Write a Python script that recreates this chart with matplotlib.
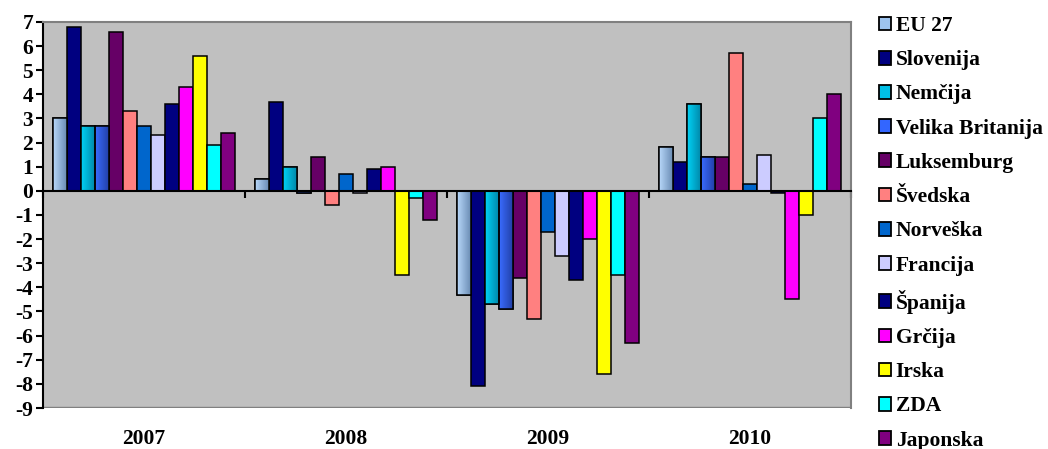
import numpy as np
import matplotlib
matplotlib.use("Agg")
from matplotlib import pyplot as plt
from matplotlib.patches import Patch, Rectangle
from matplotlib.colors import LinearSegmentedColormap
from matplotlib.transforms import blended_transform_factory

plt.rcParams["font.family"] = ["Liberation Serif", "DejaVu Serif"]
plt.rcParams["font.weight"] = "bold"
plt.rcParams["axes.unicode_minus"] = False

years = ["2007", "2008", "2009", "2010"]
countries = ["EU 27", "Slovenija", "Nemčija", "Velika Britanija", "Luksemburg",
             "Švedska", "Norveška", "Francija", "Španija", "Grčija", "Irska",
             "ZDA", "Japonska"]

eu27 = [3.0, 0.5, -4.3, 1.8]
slovenija = [6.8, 3.7, -8.1, 1.2]
nemcija = [2.7, 1.0, -4.7, 3.6]
velika_britanija = [2.7, -0.1, -4.9, 1.4]
luksemburg = [6.6, 1.4, -3.6, 1.4]
svedska = [3.3, -0.6, -5.3, 5.7]
norveska = [2.7, 0.7, -1.7, 0.3]
francija = [2.3, -0.1, -2.7, 1.5]
spanija = [3.6, 0.9, -3.7, -0.1]
grcija = [4.3, 1.0, -2.0, -4.5]
irska = [5.6, -3.5, -7.6, -1.0]
zda = [1.9, -0.3, -3.5, 3.0]
japonska = [2.4, -1.2, -6.3, 4.0]

series = [eu27, slovenija, nemcija, velika_britanija, luksemburg, svedska,
          norveska, francija, spanija, grcija, irska, zda, japonska]

colors = ["#9DC3EE", "#000080", "#00BFE6", "#3366FF", "#660066", "#FF8080",
          "#0066CC", "#CCCCFF", "#000080", "#FF00FF", "#FFFF00", "#00FFFF",
          "#800080"]
# gradient fills (left -> right) for a few series, like the original
gradients = {0: ("#B8D8FA", "#6A8CB4"), 2: ("#00D2F5", "#0088AA"),
             3: ("#3A6CFF", "#2240A8")}

fig = plt.figure(figsize=(10.48, 4.49), dpi=100)
ax = fig.add_axes([0.041, 0.0913, 0.771, 0.86])
ax.set_facecolor("#C0C0C0")

n = len(series)
w = 1 / (n + 1.5)
x = np.arange(len(years))

for i, vals in enumerate(series):
    bars = ax.bar(x + (i - (n - 1) / 2) * w, vals, w, color=colors[i],
                  edgecolor="black", linewidth=1.1, zorder=3)
    if i in gradients:
        cmap = LinearSegmentedColormap.from_list("g%d" % i, gradients[i])
        for b in bars:
            bx, by = b.get_x(), b.get_y()
            bw, bh = b.get_width(), b.get_height()
            im = ax.imshow(np.linspace(0, 1, 64).reshape(1, -1), cmap=cmap,
                           aspect="auto", extent=[bx, bx + bw, by, by + bh],
                           zorder=3.5, interpolation="bilinear")
            im.set_clip_path(b)
            ax.bar(bx + bw / 2, bh, bw, bottom=by, fill=False,
                   edgecolor="black", linewidth=1.1, zorder=4)

ax.set_xlim(-0.5, len(years) - 0.5)
ax.set_ylim(-9, 7)
ax.set_yticks(np.arange(-9, 8))
ax.tick_params(axis="y", direction="out", length=5, width=1.5, labelsize=15.5,
               pad=2)
for t in ax.get_yticklabels():
    t.set_fontweight("bold")

ax.spines["bottom"].set_position(("data", 0))
ax.spines["bottom"].set_linewidth(1.5)
ax.spines["bottom"].set_zorder(5)
ax.spines["left"].set_linewidth(1.5)
ax.spines["top"].set_color("#808080")
ax.spines["right"].set_color("#808080")
ax.spines["top"].set_linewidth(1.5)
ax.spines["right"].set_linewidth(1.5)
ax.add_patch(Rectangle((0, 0), 1, 0.003, transform=ax.transAxes,
                       color="#808080", zorder=2))
ax.set_xticks(np.arange(len(years) + 1) - 0.5)
ax.set_xticklabels([])
ax.tick_params(axis="x", direction="out", length=5, width=1.5)

trans = blended_transform_factory(ax.transData, ax.transAxes)
for xi, yr in zip(x, years):
    ax.text(xi, -0.08, yr, transform=trans, ha="center", va="center",
            fontsize=15.5, fontweight="bold")

handles = [Patch(facecolor=c, edgecolor="black", linewidth=1.3) for c in colors]
leg = fig.legend(handles, countries, loc="upper left",
                 bbox_to_anchor=(0.826, 0.993), frameon=False, fontsize=15.5,
                 handlelength=0.6, handleheight=0.6, handletextpad=0.2,
                 labelspacing=0.66, borderaxespad=0.2)
for t in leg.get_texts():
    t.set_fontweight("bold")

fig.savefig("out.png", dpi=100)
